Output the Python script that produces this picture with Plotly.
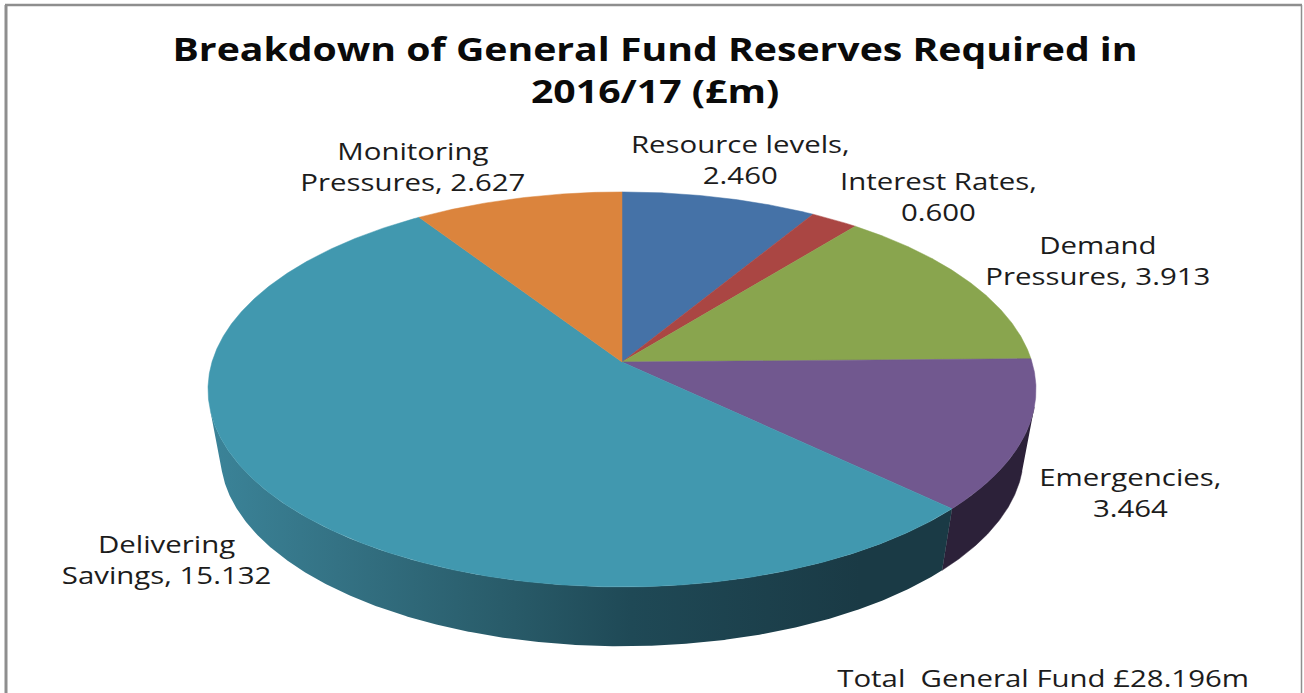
import numpy as np
import plotly.graph_objects as go

# Reserve categories, clockwise from twelve o'clock
categories = ["Resource levels", "Interest Rates", "Demand Pressures",
              "Emergencies", "Delivering Savings", "Monitoring Pressures"]
values = [2.460, 0.600, 3.913, 3.464, 15.132, 2.627]
slice_colors = ["#4572A7", "#AA4643", "#89A54E", "#71588F", "#4198AF", "#DB843D"]

title_lines = ["Breakdown of General Fund Reserves Required in", "2016/17 (£m)"]
total_note = "Total  General Fund £28.196m"

# Line breaks and anchor of each slice label
label_breaks = ["Resource levels,<br>{v}", "Interest Rates,<br>{v}", "Demand<br>Pressures, {v}",
                "Emergencies,<br>{v}", "Delivering<br>Savings, {v}", "Monitoring<br>Pressures, {v}"]
label_centers = [(740, 159), (938, 196), (1098, 260), (1130, 492), (166, 559), (413, 166)]

FONT = "Open Sans"
TEXT = "#1c1c1c"
FRAME = "#8e8e8e"

# Tilted-disc projection: the near rim is drawn larger than the far rim
CX, CY = 622.0, 362.0
RX, RY = 410.0, 193.7
TILT = 0.139
DEPTH = 66.0
BASE_SCALE = 0.97


def project(theta, scale=1.0, drop=0.0):
    u, v = np.sin(theta), -np.cos(theta)
    w = 1 - TILT * v
    return CX + scale * RX * u / w, CY + drop + scale * RY * v / w


def arc(start, stop, scale=1.0, drop=0.0):
    n = max(2, int(abs(stop - start) / 0.005))
    return project(np.linspace(start, stop, n), scale, drop)


def wall(start, stop):
    x0, y0 = arc(start, stop)
    x1, y1 = arc(stop, start, BASE_SCALE, DEPTH)
    return np.r_[x0, x1], np.r_[y0, y1]


edges = np.cumsum([0] + values) / sum(values) * 2 * np.pi
fig = go.Figure()

# Side walls sit underneath the top face: purple on the right, shaded teal in front
i_purple = categories.index("Emergencies")
i_teal = categories.index("Delivering Savings")

wx, wy = wall(np.pi * 0.572, edges[i_purple + 1])
fig.add_trace(go.Scatter(x=wx, y=wy, mode="lines", fill="toself", fillcolor="#2C2139",
                         line=dict(color="#2C2139", width=0.5), hoverinfo="skip"))

wx, wy = wall(edges[i_teal], np.pi * 1.428)
fig.add_trace(go.Scatter(
    x=wx, y=wy, mode="lines", fill="toself",
    fillgradient=dict(type="horizontal", start=207, stop=860,
                      colorscale=[[0, "#3B8499"], [0.2, "#347284"], [0.45, "#295C6A"],
                                  [0.65, "#1F4956"], [1, "#1A3A45"]]),
    line=dict(width=0), hoverinfo="skip"))

# Top face, one wedge per category
for k, color in enumerate(slice_colors):
    ax, ay = arc(edges[k], edges[k + 1])
    fig.add_trace(go.Scatter(x=np.r_[CX, ax, CX], y=np.r_[CY, ay, CY], mode="lines",
                             fill="toself", fillcolor=color,
                             line=dict(color=color, width=0.5),
                             name=categories[k], hoverinfo="skip"))

annotations = [
    dict(x=655, y=69, text="<br>".join(title_lines),
         font=dict(family=FONT, size=32, color="#0a0a0a", weight="bold")),
    dict(x=1043, y=677, text=total_note, font=dict(family=FONT, size=24, color=TEXT)),
]
for tmpl, value, (lx, ly) in zip(label_breaks, values, label_centers):
    annotations.append(dict(x=lx, y=ly, text=tmpl.format(v=f"{value:.3f}"),
                            font=dict(family=FONT, size=24, color=TEXT)))
for a in annotations:
    a.update(xref="x", yref="y", showarrow=False, xanchor="center", yanchor="middle", align="center")

fig.update_layout(
    width=1304, height=693, margin=dict(l=0, r=0, t=0, b=0),
    paper_bgcolor="white", plot_bgcolor="white", showlegend=False,
    xaxis=dict(range=[0, 1304], visible=False, fixedrange=True),
    yaxis=dict(range=[693, 0], visible=False, fixedrange=True),
    annotations=annotations,
    shapes=[
        dict(type="line", xref="x", yref="y", x0=6, y0=5, x1=6, y1=693, line=dict(color=FRAME, width=3)),
        dict(type="line", xref="x", yref="y", x0=5, y0=5, x1=1302, y1=5, line=dict(color=FRAME, width=2.5)),
        dict(type="line", xref="x", yref="y", x0=1301.5, y0=5, x1=1301.5, y1=693, line=dict(color=FRAME, width=1.5)),
    ],
)

# Widen every annotation about its own centre so the lettering reads wide and low
widen_text = """
document.querySelectorAll('text.annotation-text').forEach(function (t) {
  var b = t.getBBox(), c = b.x + b.width / 2;
  t.setAttribute('transform', 'translate(' + c + ',0) scale(1.225,1) translate(' + (-c) + ',0)');
});
"""

fig.write_html("out.html", config={"displayModeBar": False}, post_script=widen_text)
